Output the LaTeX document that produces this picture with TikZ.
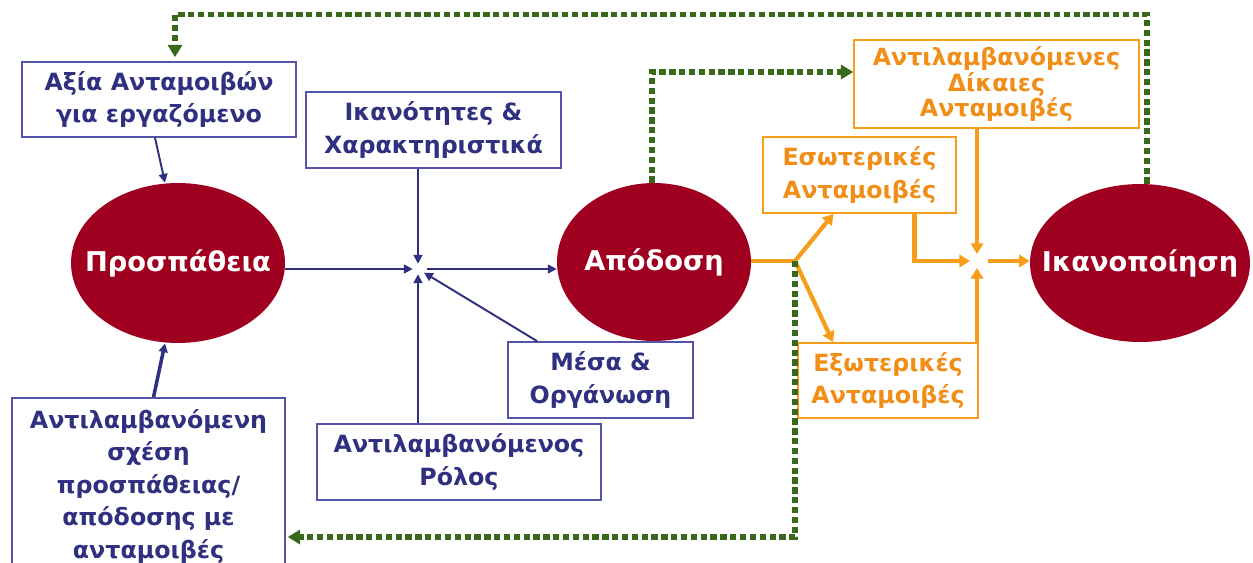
\documentclass[tikz,border=0pt]{standalone}
\usepackage{fontspec}
\setmainfont{DejaVu Sans}
\usetikzlibrary{arrows.meta, positioning, shapes.geometric}
\definecolor{wine}{RGB}{160,0,32}
\definecolor{navyink}{RGB}{48,48,128}
\definecolor{boxblue}{RGB}{84,84,168}
\definecolor{amber}{RGB}{246,158,28}
\definecolor{amberink}{RGB}{240,142,24}
\definecolor{leaf}{RGB}{58,104,26}

\begin{document}
\begin{tikzpicture}[x=0.02cm, y=-0.02cm,
		blob/.style={ellipse, fill=wine, inner sep=0pt,
			label={[text=white, font=\bfseries\fontsize{15.5}{18}\selectfont]center:#1}},
		bluebox/.style={draw=boxblue, line width=0.9pt, text=navyink, align=center,
			inner sep=0pt, font=\bfseries\fontsize{13.5}{18.5}\selectfont},
		orangebox/.style={draw=amber, line width=0.9pt, text=amberink, align=center,
			inner sep=0pt, font=\bfseries\fontsize{13.5}{18.5}\selectfont},
		bluearrow/.style={-{Triangle[length=5pt, width=5pt]}, line width=1.1pt, draw=navyink},
		orangearrow/.style={-{Triangle[length=6pt, width=7pt]}, line width=2.4pt, draw=amber},
		orangeline/.style={line width=2.4pt, draw=amber},
		feedback/.style={-{Triangle[length=7pt, width=8pt]}, line width=3pt, draw=leaf,
			dash pattern=on 3.6pt off 2pt}
	]
		\useasboundingbox (0,0) rectangle (1253,562);
		% ellipses
		\node[blob=Προσπάθεια, minimum width=4.28cm, minimum height=3.2cm] (effort) at (178,263) {};
		\node[blob=Απόδοση, minimum width=3.88cm, minimum height=3.16cm] (perf) at (654,262) {};
		\node[blob=Ικανοποίηση, minimum width=4.4cm, minimum height=3.16cm] (satis) at (1140,263) {};
		% blue boxes
		\node[bluebox, minimum width=5.48cm, minimum height=1.5cm] (worth) at (159,99.5) {Αξία Ανταμοιβών\\για εργαζόμενο};
		\node[bluebox, minimum width=5.1cm, minimum height=1.52cm] (abil) at (433.5,130) {Ικανότητες \&\\Χαρακτηριστικά};
		\node[bluebox, minimum width=3.7cm, minimum height=1.52cm] (means) at (600.5,380) {Μέσα \&\\Οργάνωση};
		\node[bluebox, minimum width=5.68cm, minimum height=1.52cm] (role) at (459,462) {Αντιλαμβανόμενος\\Ρόλος};
		\node[bluebox, minimum width=5.46cm, minimum height=3.52cm] (ratio) at (148.5,486) {Αντιλαμβανόμενη\\σχέση\\προσπάθειας/\\απόδοσης με\\ανταμοιβές};
		% orange boxes
		\node[orangebox, minimum width=5.7cm, minimum height=1.76cm,
			font=\bfseries\fontsize{13.5}{14.5}\selectfont] (fair) at (996.5,84) {Αντιλαμβανόμενες\\Δίκαιες\\Ανταμοιβές};
		\node[orangebox, minimum width=3.86cm, minimum height=1.52cm] (inner) at (859.5,175) {Εσωτερικές\\Ανταμοιβές};
		\node[orangebox, minimum width=3.6cm, minimum height=1.5cm] (outer) at (888,380.5) {Εξωτερικές\\Ανταμοιβές};
		% junctions
		\coordinate (mix) at (418,269);
		\coordinate (split) at (795,261);
		\coordinate (join) at (977,261);
		% blue arrows
		\draw[bluearrow] ([shift={(-4,0)}]worth.south) -- ([shift={(-13,0)}]effort.north);
		\draw[bluearrow, line width=2pt] ([shift={(5,0)}]ratio.north) -- ([shift={(-13,0)}]effort.south);
		\draw[bluearrow, shorten >=3pt] (effort.east |- mix) -- (mix);
		\draw[bluearrow, shorten >=3pt] (abil.south -| mix) -- (mix);
		\draw[bluearrow, shorten >=3pt] (role.north -| mix) -- (mix);
		\draw[bluearrow, shorten >=4pt] ([shift={(30,0)}]means.north west) -- (mix);
		\draw[bluearrow, shorten <=5pt] (mix) -- (perf.west |- mix);
		% orange flow
		\draw[orangeline] (perf.east |- split) -- (split);
		\draw[orangearrow] (split) -- ([shift={(-26,0)}]inner.south);
		\draw[orangearrow] (split) -- ([shift={(-55,0)}]outer.north);
		\draw[orangearrow, shorten >=4pt] ([shift={(55,0)}]inner.south) |- (join);
		\draw[orangearrow, shorten >=4pt] (fair.south -| join) -- (join);
		\draw[orangearrow, shorten >=4pt] (outer.north east -| join) -- (join);
		\draw[orangearrow, shorten <=6pt] (join) -- (satis.west |- join);
		% feedback loops
		\draw[feedback] ([shift={(7,0)}]satis.north) -- ++(0,-169) -| ([shift={(16,-4)}]worth.north);
		\draw[feedback] ([shift={(-2,0)}]perf.north) |- ([shift={(0,-12)}]fair.west);
		\draw[feedback] (split) |- ([shift={(2,51)}]ratio.east);
	\end{tikzpicture}
\end{document}
